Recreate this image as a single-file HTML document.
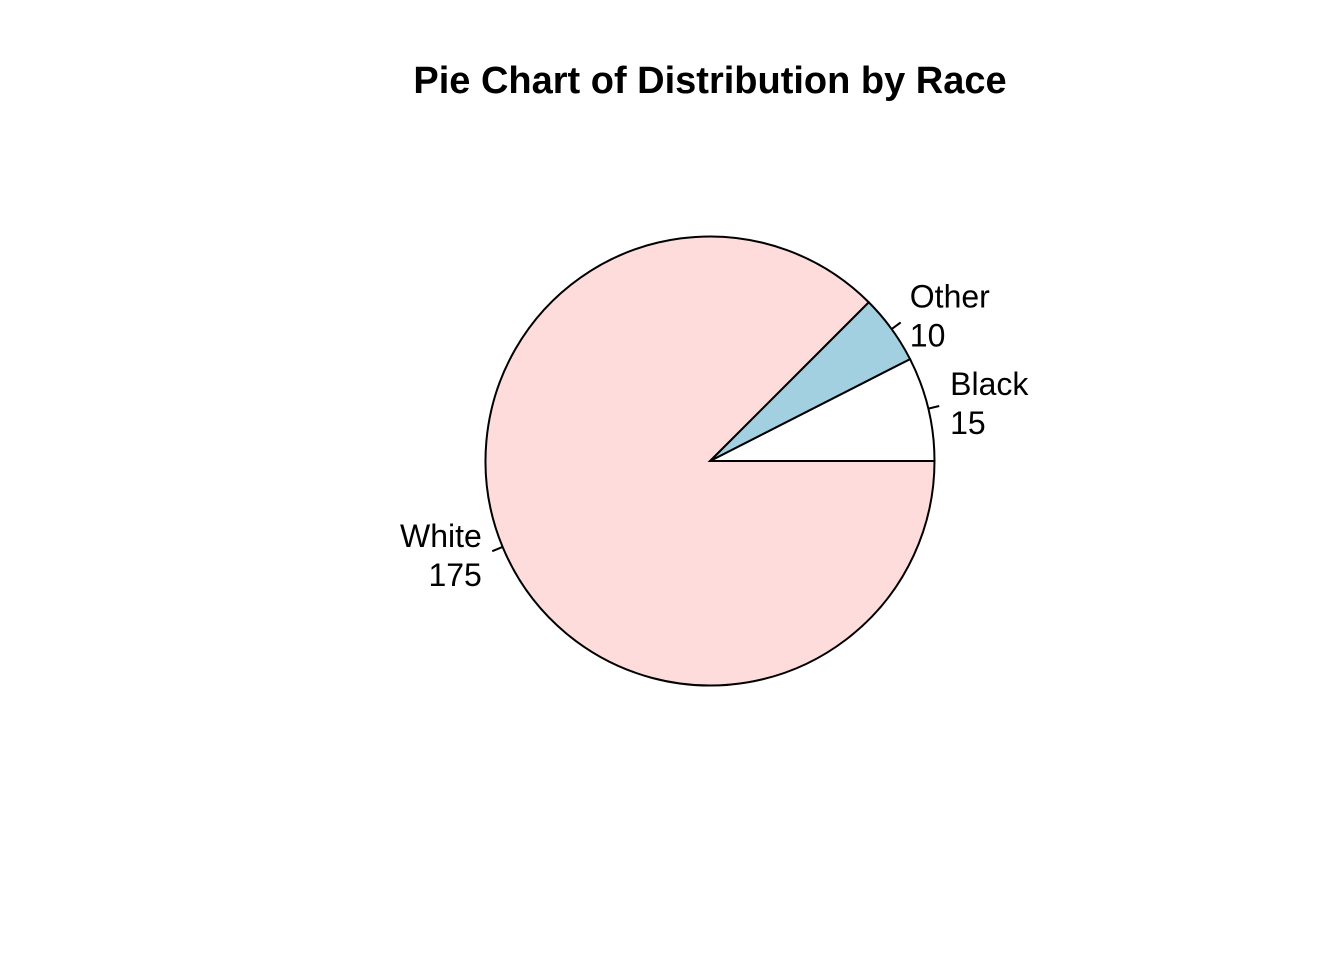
<!DOCTYPE html>
<html><head><meta charset="utf-8">
<style>
html,body{margin:0;padding:0;background:#fff;}
svg{display:block;font-family:"Liberation Sans",Arial,sans-serif;}
</style></head>
<body>
<svg id="chart" width="1344" height="960" viewBox="0 0 1344 960" xmlns="http://www.w3.org/2000/svg">
<rect width="1344" height="960" fill="#fff"/>
<text x="710" y="93" text-anchor="middle" font-size="38" font-weight="bold">Pie Chart of Distribution by Race</text>
<g id="slices"></g>
<g id="labels"></g>
</svg>
<script>
const categories = ["Black", "Other", "White"];
const values = [15, 10, 175];
const colors = ["#ffffff", "#a2d0e0", "#ffdcdc"];

const cx = 710, cy = 461, r = 224.5;
const NS = "http://www.w3.org/2000/svg";
const total = values.reduce((a, b) => a + b, 0);
const slicesG = document.getElementById("slices");
const labelsG = document.getElementById("labels");
function pt(a, rad) { return [cx + rad * Math.cos(a), cy - rad * Math.sin(a)]; }
let cum = 0;
values.forEach((v, i) => {
  const a0 = cum / total * 2 * Math.PI;
  cum += v;
  const a1 = cum / total * 2 * Math.PI;
  const p0 = pt(a0, r), p1 = pt(a1, r);
  const large = (a1 - a0) > Math.PI ? 1 : 0;
  const path = document.createElementNS(NS, "path");
  path.setAttribute("d", `M${cx},${cy} L${p0[0]},${p0[1]} A${r},${r} 0 ${large} 0 ${p1[0]},${p1[1]} Z`);
  path.setAttribute("fill", colors[i]);
  path.setAttribute("stroke", "#000");
  path.setAttribute("stroke-width", "2");
  
  
  slicesG.appendChild(path);

  const am = (a0 + a1) / 2;
  const t0 = pt(am, r), t1 = pt(am, r * 1.05);
  const tick = document.createElementNS(NS, "line");
  tick.setAttribute("x1", t0[0]); tick.setAttribute("y1", t0[1]);
  tick.setAttribute("x2", t1[0]); tick.setAttribute("y2", t1[1]);
  tick.setAttribute("stroke", "#000");
  tick.setAttribute("stroke-width", "2");
  
  
  labelsG.appendChild(tick);

  const lp = pt(am, r * 1.1);
  const anchor = Math.cos(am) >= 0 ? "start" : "end";
  const lines = [categories[i], String(v)];
  lines.forEach((s, j) => {
    const t = document.createElementNS(NS, "text");
    t.setAttribute("x", lp[0]);
    t.setAttribute("y", lp[1] + (j === 0 ? -19.5 : 19.5) + 11);
    t.setAttribute("text-anchor", anchor);
    t.setAttribute("font-size", "32");
    t.textContent = s;
    
    
    labelsG.appendChild(t);
  });
});
</script>
</body></html>
